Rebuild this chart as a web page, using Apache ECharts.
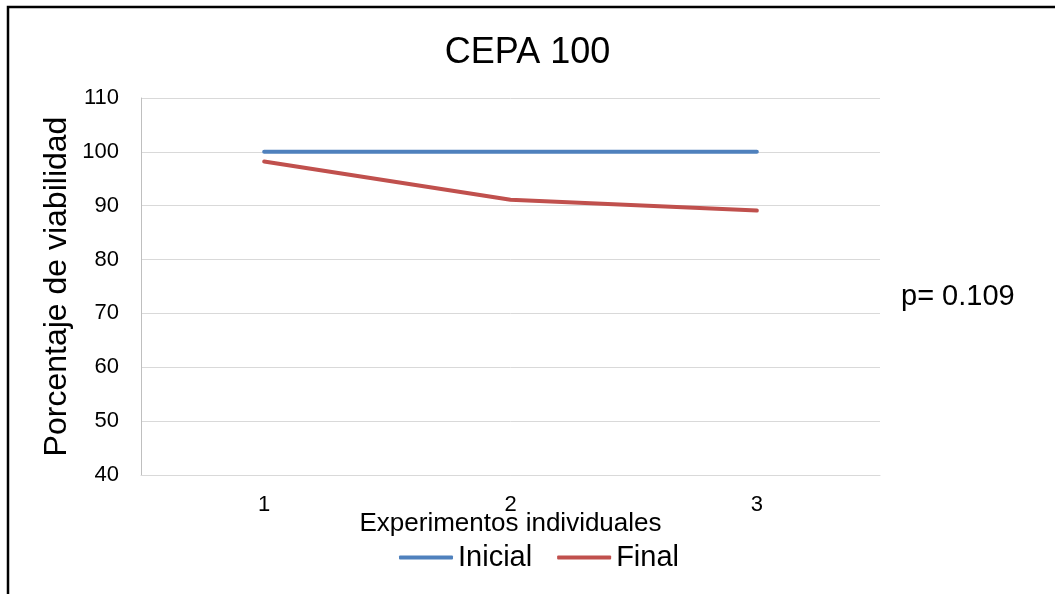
<!DOCTYPE html>
<html>
<head>
<meta charset="utf-8">
<script src="https://cdn.jsdelivr.net/npm/echarts@6/dist/echarts.min.js"></script>
<style>html,body{margin:0;padding:0;background:#fff;}#c{width:1055px;height:594px;}</style>
</head>
<body>
<div id="c"></div>
<script>
const categories = ['1', '2', '3'];
const inicial = [100, 100, 100];
const finalV = [98.2, 91.1, 89.1];
const yTicks = [40, 50, 60, 70, 80, 90, 100, 110];

const chart = echarts.init(document.getElementById('c'));
const F = 'Arial, "Liberation Sans", sans-serif';
chart.setOption({
  animation: false,
  backgroundColor: '#fff',
  title: {
    text: 'CEPA 100', left: 'center', top: 30,
    textStyle: { fontFamily: F, fontSize: 36, fontWeight: 'normal', color: '#000' }
  },
  grid: { left: 141, right: 175, top: 98, bottom: 119 },
  xAxis: {
    type: 'category', data: categories, boundaryGap: true,
    name: 'Experimentos individuales', nameLocation: 'middle', nameGap: 36, nameMoveOverlap: false,
    nameTextStyle: { fontFamily: F, fontSize: 26, color: '#000' },
    axisLine: { show: true, lineStyle: { color: '#d9d9d9', width: 1 } },
    axisTick: { show: false },
    axisLabel: { fontFamily: F, fontSize: 22, color: '#000', margin: 19 }
  },
  yAxis: {
    type: 'value', min: yTicks[0], max: yTicks[yTicks.length - 1], interval: 10,
    name: 'Porcentaje de viabilidad', nameLocation: 'middle', nameGap: 68, nameMoveOverlap: false,
    nameTextStyle: { fontFamily: F, fontSize: 32, color: '#000' },
    axisLine: { show: true, lineStyle: { color: '#bfbfbf', width: 1 } },
    axisTick: { show: false },
    axisLabel: { fontFamily: F, fontSize: 22, color: '#000', margin: 22 },
    splitLine: { lineStyle: { color: '#d9d9d9', width: 1 } }
  },
  legend: {
    bottom: 17, left: 394, icon: 'roundRect', itemWidth: 54, itemHeight: 4, itemGap: 25,
    textStyle: { fontFamily: F, fontSize: 29, color: '#000' },
    data: ['Inicial', 'Final']
  },
  series: [
    { name: 'Inicial', type: 'line', data: inicial, symbol: 'none', lineStyle: { color: '#4F81BD', width: 4, cap: 'round' }, itemStyle: { color: '#4F81BD' } },
    { name: 'Final', type: 'line', data: finalV, symbol: 'none', lineStyle: { color: '#C0504D', width: 4, cap: 'round' }, itemStyle: { color: '#C0504D' } }
  ],
  graphic: [
    { type: 'rect', shape: { x: 8, y: 7, width: 1100, height: 700 }, style: { fill: 'none', stroke: '#000', lineWidth: 2.5 }, z: 100 },
    { type: 'text', left: 901, top: 282, style: { text: 'p= 0.109', font: '29px ' + F, fill: '#000' } }
  ]
});
</script>
</body>
</html>
